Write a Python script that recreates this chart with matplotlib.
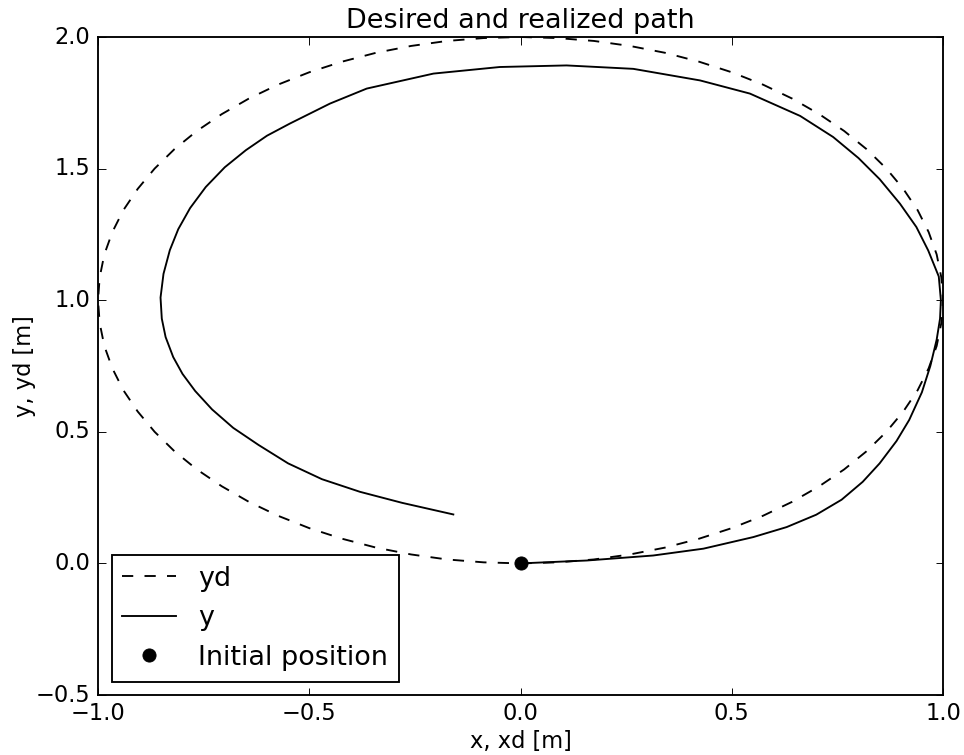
import matplotlib
matplotlib.use('Agg')
import matplotlib.pyplot as plt

# desired path (dashed), counter-clockwise from (0, 0)
xd = [0.0, 0.087, 0.174, 0.259, 0.342, 0.423, 0.5, 0.574, 0.643, 0.707,
      0.766, 0.819, 0.866, 0.906, 0.94, 0.966, 0.985, 0.996, 1.0,
      0.996, 0.985, 0.966, 0.94, 0.906, 0.866, 0.819, 0.766, 0.707,
      0.643, 0.574, 0.5, 0.423, 0.342, 0.259, 0.174, 0.087, 0.0,
      -0.087, -0.174, -0.259, -0.342, -0.423, -0.5, -0.574, -0.643, -0.707,
      -0.766, -0.819, -0.866, -0.906, -0.94, -0.966, -0.985, -0.996, -1.0,
      -0.996, -0.985, -0.966, -0.94, -0.906, -0.866, -0.819, -0.766, -0.707,
      -0.643, -0.574, -0.5, -0.423, -0.342, -0.259, -0.174, -0.087, 0.0]
yd = [0.0, 0.004, 0.015, 0.034, 0.06, 0.094, 0.134, 0.181, 0.234, 0.293,
      0.357, 0.426, 0.5, 0.577, 0.658, 0.741, 0.826, 0.913, 1.0,
      1.087, 1.174, 1.259, 1.342, 1.423, 1.5, 1.574, 1.643, 1.707,
      1.766, 1.819, 1.866, 1.906, 1.94, 1.966, 1.985, 1.996, 2.0,
      1.996, 1.985, 1.966, 1.94, 1.906, 1.866, 1.819, 1.766, 1.707,
      1.643, 1.574, 1.5, 1.423, 1.342, 1.259, 1.174, 1.087, 1.0,
      0.913, 0.826, 0.741, 0.658, 0.577, 0.5, 0.426, 0.357, 0.293,
      0.234, 0.181, 0.134, 0.094, 0.06, 0.034, 0.015, 0.004, 0.0]

# realized path (solid)
x = [0.0, 0.157, 0.314, 0.433, 0.551, 0.63, 0.70, 0.76, 0.81, 0.85,
     0.89, 0.92, 0.95, 0.97, 0.985, 0.993, 0.995, 0.99, 0.965, 0.937,
     0.898, 0.85, 0.80, 0.74, 0.662, 0.543, 0.425, 0.267, 0.109, -0.049,
     -0.206, -0.364, -0.451, -0.546, -0.60, -0.65, -0.70, -0.745, -0.782,
     -0.81, -0.83, -0.845, -0.852, -0.849, -0.84, -0.822, -0.80, -0.77,
     -0.73, -0.68, -0.62, -0.55, -0.47, -0.38, -0.28, -0.159]
y = [0.0, 0.011, 0.03, 0.056, 0.1, 0.138, 0.185, 0.242, 0.31, 0.38,
     0.465, 0.545, 0.65, 0.75, 0.85, 0.93, 1.0, 1.09, 1.189, 1.278,
     1.367, 1.46, 1.54, 1.62, 1.70, 1.785, 1.835, 1.879, 1.892, 1.886,
     1.861, 1.804, 1.747, 1.671, 1.625, 1.57, 1.505, 1.43, 1.35,
     1.27, 1.19, 1.10, 1.01, 0.93, 0.86, 0.784, 0.72, 0.655,
     0.585, 0.515, 0.45, 0.38, 0.32, 0.272, 0.23, 0.186]

x0 = [0.0]
y0 = [0.0]

plt.style.use('classic')
dpi = 135
fig = plt.figure(figsize=(964 / dpi, 755 / dpi), dpi=dpi, facecolor='white')
ax = fig.add_axes([98 / 964, 1 - 695 / 755, (943 - 98) / 964, (695 - 37) / 755])

ax.plot(xd, yd, 'k--', label='yd')
ax.plot(x, y, 'k-', label='y', solid_joinstyle='round')
ax.plot(x0, y0, 'ko', ms=7, label='Initial position')

ax.set_xlim(-1.0, 1.0)
ax.set_ylim(-0.5, 2.0)
ax.set_xticks([-1.0, -0.5, 0.0, 0.5, 1.0])
ax.set_yticks([-0.5, 0.0, 0.5, 1.0, 1.5, 2.0])
ax.set_title('Desired and realized path')
ax.set_xlabel('x, xd [m]', labelpad=2.5)
ax.set_ylabel('y, yd [m]', labelpad=0)
ax.legend(loc='lower left', numpoints=1)

fig.savefig('out.png', dpi=dpi, facecolor='white')
